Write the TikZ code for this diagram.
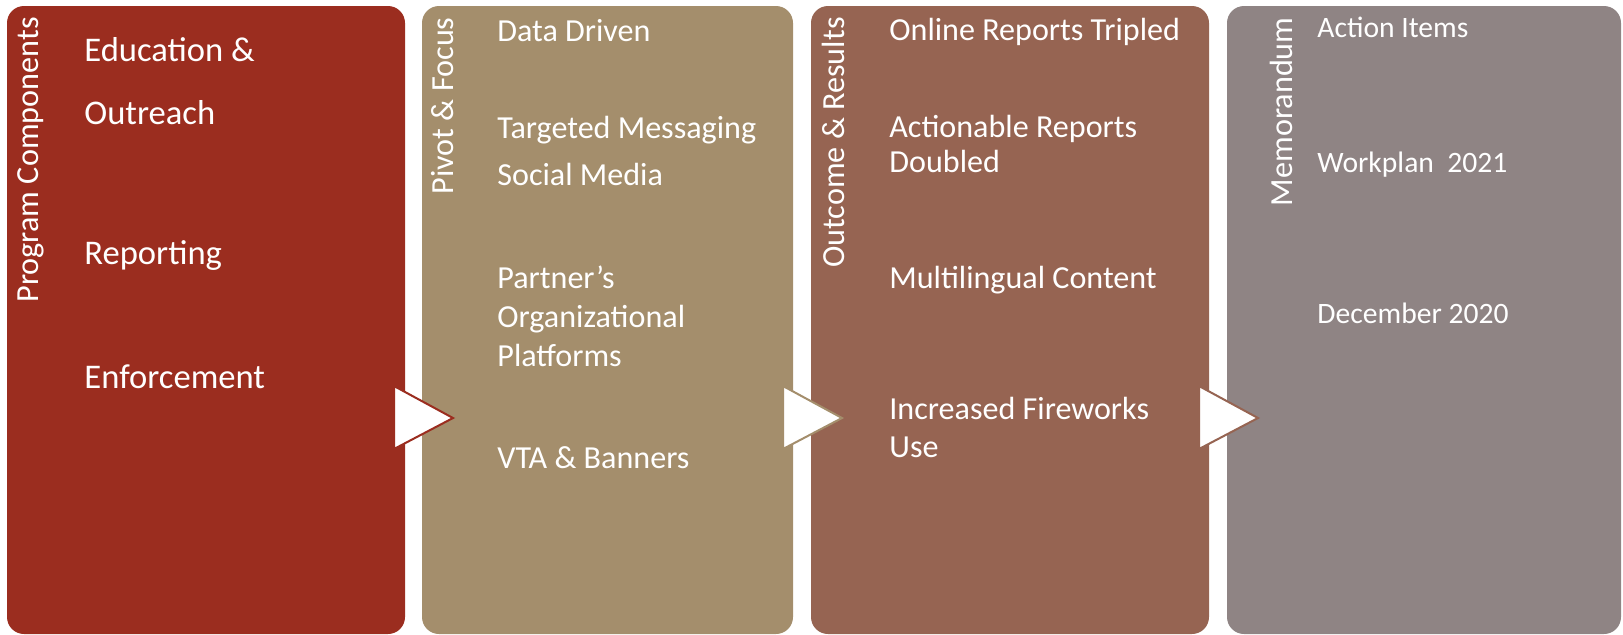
\documentclass[tikz,border=0pt]{standalone}
\usepackage{fontspec}
\setmainfont{Carlito}
\definecolor{rust}{RGB}{155,45,31}
\definecolor{sand}{RGB}{164,142,108}
\definecolor{clay}{RGB}{150,100,82}
\definecolor{taupe}{RGB}{143,132,132}
\begin{document}
\begin{tikzpicture}[x=0.5pt,y=-0.5pt]
\tikzstyle{panel}=[rectangle,rounded corners=8.5pt,fill=#1,minimum height=314pt,anchor=north west,inner sep=0,outer sep=0]
\tikzstyle{chev}=[fill=white,draw=#1,line width=1pt,line join=miter]
\tikzstyle{head}=[rotate=90,anchor=base east,inner sep=0,text=white,font=\fontsize{16.1}{19}\selectfont]
\tikzstyle{item}=[anchor=base west,inner sep=0,text=white,font=\fontsize{#1}{20}\selectfont]
\useasboundingbox (0,0) rectangle (1623,634);

\node[panel=rust,minimum width=199pt](comp) at (7,6) {};
\node[panel=sand,minimum width=185.5pt](pivot) at (422,6) {};
\node[panel=clay,minimum width=199pt](result) at (811,6) {};
\node[panel=taupe,minimum width=197pt](memo) at (1227,6) {};

% arrows between the panels
\draw[chev=rust] (394,386) -- (453,418) -- (394,449) -- cycle;
\draw[chev=sand] (783,386) -- (842,418) -- (783,449) -- cycle;
\draw[chev=clay] (1199,386) -- (1258,418) -- (1199,449) -- cycle;

% titles
\node[head](tcomp) at (39,17) {Program Components};
\node[head](tpivot) at (453,17) {Pivot \& Focus};
\node[head](tresult) at (844,17) {Outcome \& Results};
\node[head](tmemo) at (1292,17) {Memorandum};

% program components
\node[item=17.3](edu) at (84,61) {Education \&};
\node[item=17.3](out) at (84,124) {Outreach};
\node[item=17.3](rep) at (84,264) {Reporting};
\node[item=17.3](enf) at (84,388) {Enforcement};

% pivot & focus
\node[item=16.05](data) at (497,41) {Data Driven};
\node[item=16.05](msg) at (497,138) {Targeted Messaging};
\node[item=16.05](soc) at (497,185) {Social Media};
\node[item=16.05](part) at (497,288) {Partner’s};
\node[item=16.05](org) at (497,327) {Organizational};
\node[item=16.05](plat) at (497,366) {Platforms};
\node[item=16.05](vta) at (497,468) {VTA \& Banners};

% outcome & results
\node[item=16.05](online) at (889,40) {Online Reports Tripled};
\node[item=16.05](act) at (889,137) {Actionable Reports};
\node[item=16.05](dbl) at (889,172) {Doubled};
\node[item=16.05](multi) at (889,288) {Multilingual Content};
\node[item=16.05](fire) at (889,419) {Increased Fireworks};
\node[item=16.05](use) at (889,457) {Use};

% memorandum
\node[item=14.8](items) at (1317,37) {Action Items};
\node[item=14.8](plan) at (1317,172) {Workplan \ 2021};
\node[item=14.8](dec) at (1317,323) {December 2020};
\end{tikzpicture}
\end{document}
